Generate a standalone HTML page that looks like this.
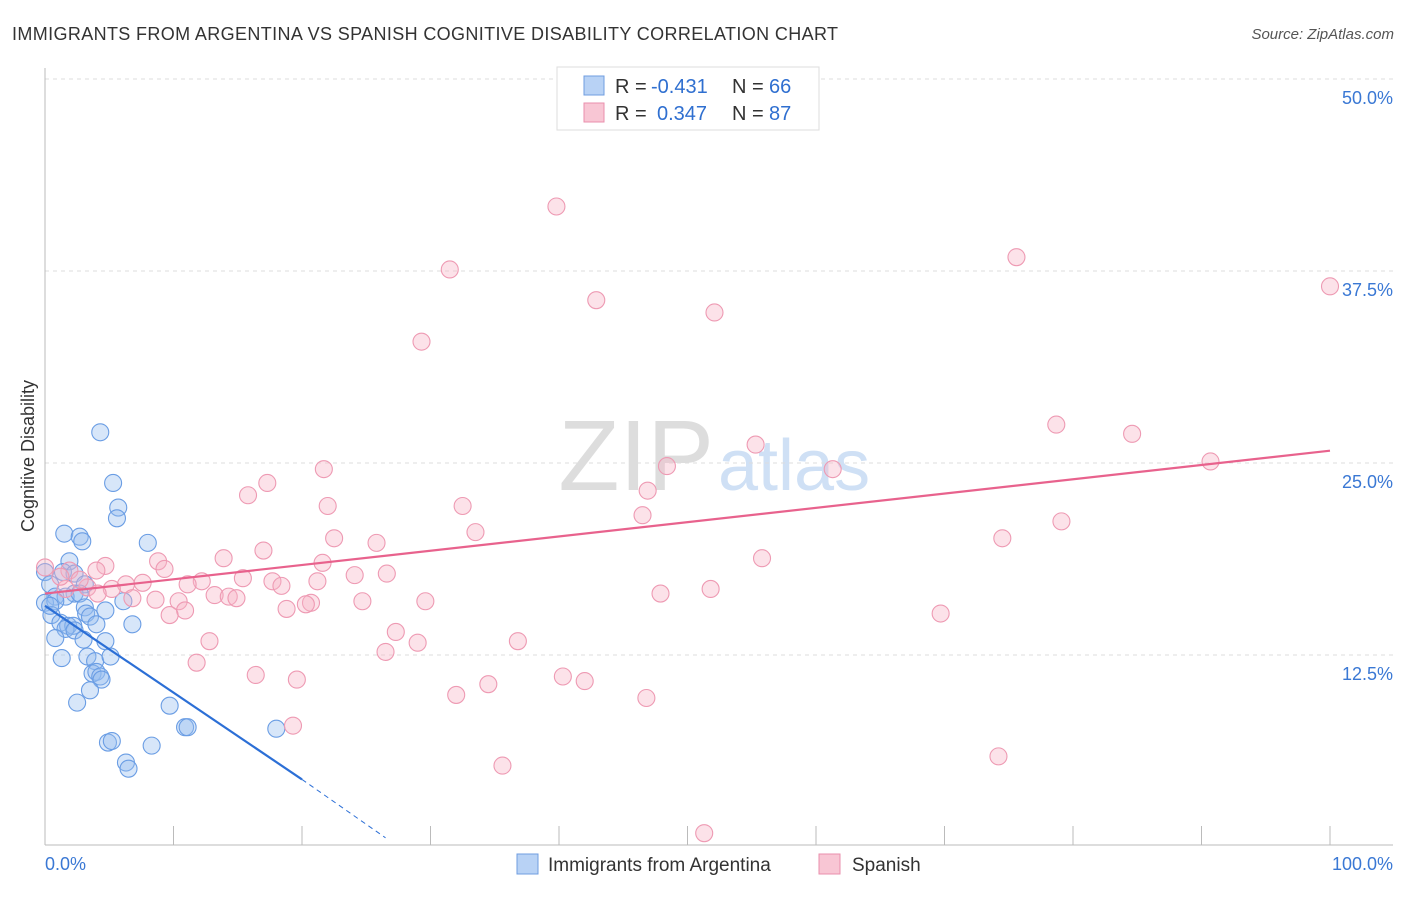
<!DOCTYPE html>
<html><head><meta charset="utf-8"><style>
body{margin:0;background:#fff;font-family:"Liberation Sans",sans-serif}
svg text{font-family:"Liberation Sans",sans-serif}
</style></head><body>
<svg id="c" width="1406" height="892">
<text x="12" y="40" font-size="18" fill="#333" textLength="826">IMMIGRANTS FROM ARGENTINA VS SPANISH COGNITIVE DISABILITY CORRELATION CHART</text>
<text x="1394" y="39" font-size="15" fill="#555" font-style="italic" text-anchor="end">Source: ZipAtlas.com</text>
<text x="714" y="490" font-size="100" fill="#ddd" font-family="Liberation Serif" text-anchor="end">ZIP</text>
<text x="718" y="490" font-size="72" fill="#cfe0f5">atlas</text>
<text transform="translate(34,456) rotate(-90)" font-size="18" fill="#333" text-anchor="middle">Cognitive Disability</text>
<g id="grid"></g><g id="pts"></g><g id="lines"></g>
<g>
<rect x="557" y="67" width="262" height="63" fill="#fff" stroke="#ddd"/>
<rect x="584" y="76" width="20" height="19" fill="#b8d2f5" stroke="#6f9de0"/>
<rect x="584" y="103" width="20" height="19" fill="#f8c6d4" stroke="#ea8fac"/>
<text x="615" y="93" font-size="20" fill="#333">R =</text>
<text x="651" y="93" font-size="20" fill="#2f6fd0">-0.431</text>
<text x="732" y="93" font-size="20" fill="#333">N =</text>
<text x="769" y="93" font-size="20" fill="#2f6fd0">66</text>
<text x="615" y="120" font-size="20" fill="#333">R =</text>
<text x="657" y="120" font-size="20" fill="#2f6fd0">0.347</text>
<text x="732" y="120" font-size="20" fill="#333">N =</text>
<text x="769" y="120" font-size="20" fill="#2f6fd0">87</text>
</g>
<g>
<rect x="517" y="854" width="21" height="20" fill="#b8d2f5" stroke="#6f9de0"/>
<text x="548" y="871" font-size="19" fill="#333">Immigrants from Argentina</text>
<rect x="819" y="854" width="21" height="20" fill="#f8c6d4" stroke="#ea8fac"/>
<text x="852" y="871" font-size="19" fill="#333">Spanish</text>
</g>
</svg>
<script>
const yTicks=[12.5,25,37.5,50];
const yTickLabels=["12.5%","25.0%","37.5%","50.0%"];
const xTickLabels=["0.0%","100.0%"];
const blueX=[4.3,5.3,5.7,5.6,1.5,2.7,2.9,8.0,1.9,0,1.4,2.3,3.1,0.4,2.3,0.8,1.6,2.7,0,0.8,3.1,4.7,6.1,0.5,3.2,3.5,1.2,1.8,2.2,1.6,2.3,4.0,6.8,0.8,3.0,4.7,3.3,1.3,3.9,5.1,3.7,4.0,4.3,4.4,3.5,2.5,9.7,10.9,11.1,18.0,4.9,5.2,8.3,6.3,6.5,0.4];
const blueY=[27.0,23.7,22.1,21.4,20.4,20.2,19.9,19.8,18.6,17.9,17.9,17.8,17.1,17.1,16.5,16.3,16.3,16.5,15.9,16.0,15.6,15.4,16.0,15.1,15.2,15.0,14.6,14.4,14.4,14.2,14.1,14.5,14.5,13.6,13.5,13.4,12.4,12.3,12.1,12.4,11.3,11.4,11.1,10.9,10.2,9.4,9.2,7.8,7.8,7.7,6.8,6.9,6.6,5.5,5.1,15.7];
const pinkX=[39.8,31.5,75.6,100,42.9,52.1,29.3,78.7,84.6,55.3,48.4,90.7,61.3,0,21.7,46.9,17.3,15.8,22.0,32.5,46.5,79.1,33.5,22.5,74.5,25.8,17.0,13.9,55.8,8.8,4.7,9.3,21.6,4.0,24.1,26.6,15.4,12.2,17.7,11.1,18.4,21.2,6.3,7.6,5.2,6.8,8.6,13.2,14.3,51.8,47.9,1.6,3.3,4.1,10.4,14.9,29.6,20.7,20.3,24.7,18.8,10.9,9.7,69.7,27.3,12.8,36.8,29.0,26.5,11.8,16.4,40.3,42.0,19.6,34.5,32.0,46.8,19.3,74.2,35.6,51.3,1.9,2.7,1.2];
const pinkY=[41.7,37.6,38.4,36.5,35.6,34.8,32.9,27.5,26.9,26.2,24.8,25.1,24.6,18.2,24.6,23.2,23.7,22.9,22.2,22.2,21.6,21.2,20.5,20.1,20.1,19.8,19.3,18.8,18.8,18.6,18.3,18.1,18.5,18.0,17.7,17.8,17.5,17.3,17.3,17.1,17.0,17.3,17.1,17.2,16.8,16.2,16.1,16.4,16.3,16.8,16.5,16.8,16.9,16.5,16.0,16.2,16.0,15.9,15.8,16.0,15.5,15.4,15.1,15.2,14.0,13.4,13.4,13.3,12.7,12.0,11.2,11.1,10.8,10.9,10.6,9.9,9.7,7.9,5.9,5.3,0.9,18.0,17.4,17.6];
const blueLine=[0,15.7,20,4.4,26.5,0.6];
const pinkLine=[0,16.5,100,25.8];
const X=v=>45+v*12.85, Y=v=>847-v*15.36;
const NS="http://www.w3.org/2000/svg";
function mk(p,t,a){const e=document.createElementNS(NS,t);for(const k in a)e.setAttribute(k,a[k]);p.appendChild(e);return e;}
const g=document.getElementById('grid'),s=document.getElementById('c');
yTicks.forEach((t,i)=>{
 const l=mk(g,'line',{x1:45,x2:1393,y1:Y(t),y2:Y(t),stroke:'#ddd','stroke-dasharray':'4,4'});
 
 
 const tx=mk(g,'text',{x:1393,y:Y(t)+25,'font-size':18,fill:'#3a78d4','text-anchor':'end'});tx.textContent=yTickLabels[i];
 
 
});
mk(g,'line',{x1:45,x2:45,y1:68,y2:845,stroke:'#bbb'});
mk(g,'line',{x1:45,x2:1393,y1:845,y2:845,stroke:'#bbb'});
for(let i=0;i<=10;i++){const t=mk(g,'line',{x1:X(i*10),x2:X(i*10),y1:826,y2:845,stroke:'#bbb'});
 
 }
[[45,'start',0],[1393,'end',1]].forEach(([x,a,i])=>{const t=mk(g,'text',{x:x,y:870,'font-size':18,fill:'#3a78d4','text-anchor':a});t.textContent=xTickLabels[i];
 
 });
const p=document.getElementById('pts');
blueX.forEach((v,i)=>{const c=mk(p,'circle',{cx:X(v),cy:Y(blueY[i]),r:8.5,fill:'rgba(150,188,238,0.38)',stroke:'#6a9de4','stroke-width':1.1});
 
 });
pinkX.forEach((v,i)=>{const c=mk(p,'circle',{cx:X(v),cy:Y(pinkY[i]),r:8.5,fill:'rgba(246,178,198,0.38)',stroke:'#ee9ab3','stroke-width':1.1});
 
 });
const L=document.getElementById('lines');
const b1=mk(L,'line',{x1:X(blueLine[0]),y1:Y(blueLine[1]),x2:X(blueLine[2]),y2:Y(blueLine[3]),stroke:'#2c6fd6','stroke-width':2.2});


const b2=mk(L,'line',{x1:X(blueLine[2]),y1:Y(blueLine[3]),x2:X(blueLine[4]),y2:Y(blueLine[5]),stroke:'#2c6fd6','stroke-width':1,'stroke-dasharray':'5,4'});


const pl=mk(L,'line',{x1:X(pinkLine[0]),y1:Y(pinkLine[1]),x2:X(pinkLine[2]),y2:Y(pinkLine[3]),stroke:'#e8628d','stroke-width':2.2});


</script>
</body></html>
